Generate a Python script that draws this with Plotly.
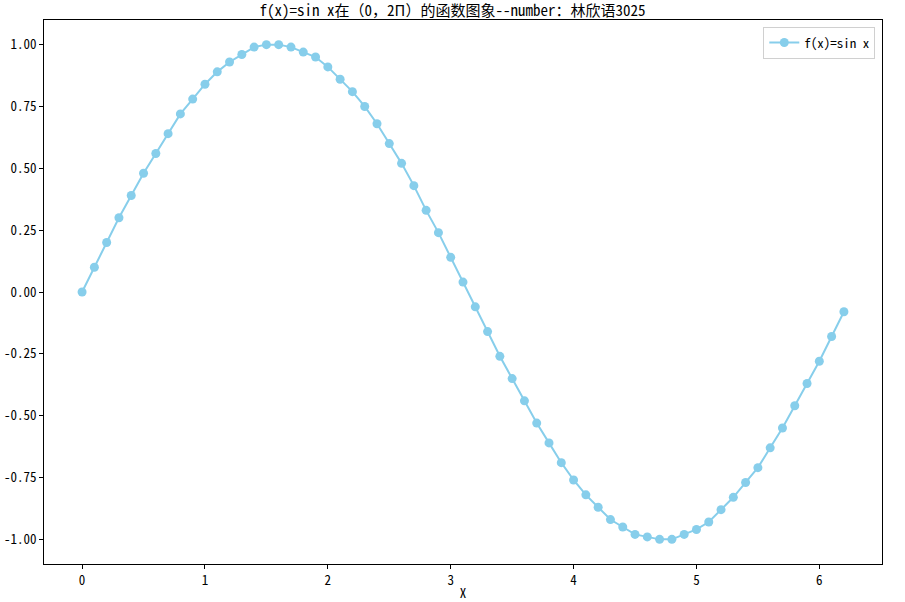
import plotly.graph_objects as go

x_values = [0.0, 0.1, 0.2, 0.3, 0.4, 0.5, 0.6, 0.7, 0.8, 0.9,
            1.0, 1.1, 1.2, 1.3, 1.4, 1.5, 1.6, 1.7, 1.8, 1.9,
            2.0, 2.1, 2.2, 2.3, 2.4, 2.5, 2.6, 2.7, 2.8, 2.9,
            3.0, 3.1, 3.2, 3.3, 3.4, 3.5, 3.6, 3.7, 3.8, 3.9,
            4.0, 4.1, 4.2, 4.3, 4.4, 4.5, 4.6, 4.7, 4.8, 4.9,
            5.0, 5.1, 5.2, 5.3, 5.4, 5.5, 5.6, 5.7, 5.8, 5.9,
            6.0, 6.1, 6.2]
y_values = [0.00, 0.10, 0.20, 0.30, 0.39, 0.48, 0.56, 0.64, 0.72, 0.78,
            0.84, 0.89, 0.93, 0.96, 0.99, 1.00, 1.00, 0.99, 0.97, 0.95,
            0.91, 0.86, 0.81, 0.75, 0.68, 0.60, 0.52, 0.43, 0.33, 0.24,
            0.14, 0.04, -0.06, -0.16, -0.26, -0.35, -0.44, -0.53, -0.61, -0.69,
            -0.76, -0.82, -0.87, -0.92, -0.95, -0.98, -0.99, -1.00, -1.00, -0.98,
            -0.96, -0.93, -0.88, -0.83, -0.77, -0.71, -0.63, -0.55, -0.46, -0.37,
            -0.28, -0.18, -0.08]

x_tickvals = [0, 1, 2, 3, 4, 5, 6]
x_ticktext = ["0", "1", "2", "3", "4", "5", "6"]
y_tickvals = [-1.0, -0.75, -0.5, -0.25, 0.0, 0.25, 0.5, 0.75, 1.0]
y_ticktext = ["-1.00", "-0.75", "-0.50", "-0.25", "0.00", "0.25", "0.50", "0.75", "1.00"]

series_name = "f(x)=sin x"
title_text = "f(x)=sin x在（0，2Π）的函数图象--number：林欣语3025"
x_label = "X"

FONT = "Noto Sans Mono CJK SC, Liberation Mono, Noto Sans CJK SC, monospace"
COLOR = "#87CEEB"

fig = go.Figure()
fig.add_trace(go.Scatter(
    x=x_values, y=y_values, mode="lines+markers", name=series_name,
    line=dict(color=COLOR, width=2),
    marker=dict(color=COLOR, size=9, symbol="circle"),
))

axis_common = dict(
    showline=True, linecolor="black", linewidth=1, mirror=True,
    showgrid=False, zeroline=False, automargin=False,
    ticks="outside", ticklen=4, tickwidth=1, tickcolor="black",
    tickfont=dict(family=FONT, size=13, color="black"),
)

fig.update_layout(
    width=905, height=602, autosize=False,
    margin=dict(l=44, r=23, t=20, b=38),
    paper_bgcolor="white", plot_bgcolor="white",
    title=dict(text=title_text, x=0.5, xanchor="center", y=1 - 10.5 / 602, yanchor="middle",
               font=dict(family=FONT, size=15, color="black")),
    xaxis=dict(range=[-0.31, 6.51], tickvals=x_tickvals, ticktext=x_ticktext,
               title=dict(text=x_label, font=dict(family=FONT, size=13, color="black"), standoff=4),
               **axis_common),
    yaxis=dict(range=[-1.0996, 1.0996], tickvals=y_tickvals, ticktext=y_ticktext,
               **axis_common),
    legend=dict(x=0.992, y=0.988, xanchor="right", yanchor="top",
                bgcolor="white", bordercolor="#d0d0d0", borderwidth=1,
                itemwidth=30,
                font=dict(family=FONT, size=13, color="black")),
    showlegend=True,
)

fig.write_html("out.html",
               config={"displayModeBar": False},
               post_script="document.body.style.margin='0';document.body.style.overflow='hidden';")
